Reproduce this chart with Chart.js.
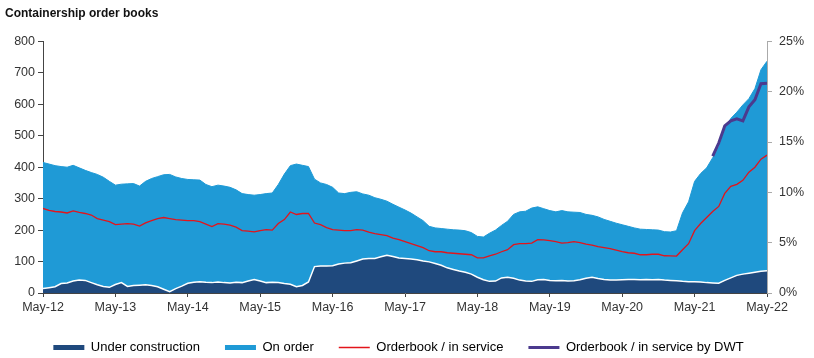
<!DOCTYPE html>
<html>
<head>
<meta charset="utf-8">
<script src="https://cdn.jsdelivr.net/npm/chart.js@4.4.1/dist/chart.umd.min.js"></script>
<style>
  body { margin: 0; background: #fff; }
  #wrap { width: 814px; height: 358px; position: relative; }
</style>
</head>
<body>
<div id="wrap"><canvas id="chart"></canvas></div>
<script>
// months since May-12 (0..120), one value per month
const xTickLabels = ['May-12', 'May-13', 'May-14', 'May-15', 'May-16', 'May-17', 'May-18', 'May-19', 'May-20', 'May-21', 'May-22'];

// top of the stacked area (under construction + on order)
const orderbookTotal = [
  415, 410, 405, 402, 400, 406, 398, 390, 383, 377, 368, 355,
  343, 346, 347, 348, 340, 355, 364, 370, 376, 377, 369, 364,
  361, 360, 359, 345, 338, 343, 340, 336, 328, 316, 313, 311,
  313, 316, 318, 345, 378, 405, 410, 406, 402, 362, 350, 345,
  336, 318, 316, 320, 322, 315, 311, 303, 298, 292, 282, 273,
  264, 254, 242, 230, 212, 207, 205, 203, 201, 200, 198, 192,
  180, 178, 190, 200, 215, 228, 250, 258, 260, 270, 274, 268,
  262, 258, 262, 258, 257, 256, 250, 247, 242, 234, 228, 222,
  217, 212, 207, 203, 202, 201, 200, 195, 194, 198, 255, 290,
  355, 380, 398, 430, 465, 520, 555, 575, 598, 618, 650, 710,
  737
];

const underConstruction = [
  14, 17, 20, 30, 32, 38, 41, 40, 33, 26, 21, 18,
  27, 33, 21, 24, 25, 26, 24, 20, 12, 4, 14, 22,
  31, 34, 36, 34, 33, 35, 33, 32, 34, 33, 38, 43,
  38, 33, 34, 33, 30, 28, 20, 24, 35, 84, 86, 86,
  87, 92, 95, 96, 102, 108, 110, 110, 115, 120, 116, 111,
  110, 108, 106, 102, 99, 94, 88, 80, 75, 70, 66, 60,
  50, 42, 37, 38, 48, 50, 47, 41, 38, 37, 42, 43,
  40, 39, 40, 38, 39, 42, 47, 50, 46, 43, 41, 41,
  42, 43, 43, 42, 43, 42, 43, 41, 40, 39, 37, 36,
  36, 35, 33, 32, 31, 40, 48, 56, 60, 63, 66, 69,
  71
];

// right axis, percent
const orderbookRatio = [
  8.4, 8.2, 8.1, 8.05, 7.95, 8.15, 8.0, 7.9, 7.75, 7.4, 7.25, 7.1,
  6.8, 6.85, 6.9, 6.85, 6.65, 6.97, 7.2, 7.4, 7.5, 7.4, 7.3, 7.25,
  7.2, 7.2, 7.1, 6.85, 6.6, 6.9, 6.85, 6.75, 6.55, 6.2, 6.15, 6.08,
  6.2, 6.3, 6.25, 6.9, 7.3, 8.05, 7.8, 7.9, 7.9, 6.95, 6.8, 6.5,
  6.3, 6.25, 6.2, 6.2, 6.3, 6.25, 6.05, 5.9, 5.8, 5.7, 5.45, 5.3,
  5.1, 4.9, 4.7, 4.5, 4.2, 4.1, 4.1, 4.0, 3.95, 3.9, 3.85, 3.8,
  3.5, 3.5, 3.7, 3.85, 4.1, 4.3, 4.8, 4.9, 4.9, 4.95, 5.3, 5.28,
  5.2, 5.1, 4.95, 5.0, 5.1, 5.0, 4.85, 4.75, 4.6, 4.5, 4.4, 4.25,
  4.1, 4.0, 3.95, 3.8, 3.8, 3.85, 3.85, 3.7, 3.68, 3.67, 4.3, 4.9,
  6.2, 6.9, 7.5, 8.1, 8.6, 9.9, 10.6, 10.8, 11.2, 12.0, 12.5, 13.3,
  13.7
];

// by DWT, only from mid 2021 (month 111 onwards)
const dwtStart = 111;
const orderbookRatioDwt = [13.6, 14.9, 16.6, 17.1, 17.3, 17.1, 18.5, 19.2, 20.8, 20.85];

const onOrder = orderbookTotal.map((v, i) => v - underConstruction[i]);

const toPoints = arr => arr.map((v, i) => ({ x: i, y: v }));
const dwtPoints = orderbookRatioDwt.map((v, i) => ({ x: dwtStart + i, y: v }));

const font = "'Liberation Sans', Arial, sans-serif";
const legendStyle = [
  { color: '#1f497d', width: 5 },
  { color: '#1f9ad6', width: 5 },
  { color: '#e3141b', width: 1.5 },
  { color: '#4b3a8e', width: 3 }
];

// legend in the original sits a little left of the page centre
const legendShift = {
  id: 'legendShift',
  afterLayout(chart) {
    chart.legend.left -= 10;
    chart.legend.right -= 10;
  }
};

new Chart(document.getElementById('chart'), {
  type: 'line',
  data: {
    datasets: [
      {
        label: 'Under construction',
        data: toPoints(underConstruction),
        yAxisID: 'y',
        stack: 'book',
        backgroundColor: '#1f497d',
        borderColor: '#ffffff',
        borderWidth: 1.5,
        fill: 'origin',
        pointRadius: 0,
        order: 1
      },
      {
        label: 'On order',
        data: toPoints(onOrder),
        yAxisID: 'y',
        stack: 'book',
        backgroundColor: '#1f9ad6',
        borderColor: '#1f9ad6',
        borderWidth: 1,
        fill: '-1',
        pointRadius: 0,
        order: 2
      },
      {
        label: 'Orderbook / in service',
        data: toPoints(orderbookRatio),
        yAxisID: 'y1',
        borderColor: '#e3141b',
        borderWidth: 1.3,
        fill: false,
        pointRadius: 0,
        order: -1
      },
      {
        label: 'Orderbook / in service by DWT',
        data: dwtPoints,
        yAxisID: 'y1',
        borderColor: '#4b3a8e',
        borderWidth: 3,
        fill: false,
        pointRadius: 0,
        order: -2
      }
    ]
  },
  plugins: [legendShift],
  options: {
    responsive: true,
    maintainAspectRatio: false,
    animation: false,
    layout: { padding: { left: 5, right: 2, top: 0, bottom: -6 } },
    plugins: {
      title: {
        display: true,
        text: 'Containership order books',
        align: 'start',
        color: '#111',
        font: { family: font, size: 12, weight: 'bold' },
        padding: { top: 6, bottom: 21 }
      },
      legend: {
        position: 'bottom',
        labels: {
          color: '#222',
          font: { family: font, size: 13 },
          usePointStyle: true,
          pointStyleWidth: 31,
          boxHeight: 6,
          padding: 25,
          generateLabels: chart => chart.data.datasets.map((ds, i) => ({
            text: ds.label,
            fillStyle: legendStyle[i].color,
            strokeStyle: legendStyle[i].color,
            lineWidth: legendStyle[i].width,
            pointStyle: 'line',
            hidden: false,
            datasetIndex: i
          }))
        }
      },
      tooltip: { enabled: false }
    },
    scales: {
      x: {
        type: 'linear',
        min: 0,
        max: 120,
        afterFit: scale => { scale.height = 23; },
        ticks: {
          stepSize: 12,
          color: '#333',
          font: { family: font, size: 12.5 },
          maxRotation: 0,
          padding: 3,
          callback: v => xTickLabels[v / 12]
        },
        grid: { drawOnChartArea: false, drawTicks: true, tickLength: 4, color: '#444' },
        border: { display: true, color: '#444', width: 1 }
      },
      y: {
        position: 'left',
        stacked: true,
        min: 0,
        max: 800,
        afterFit: scale => { scale.width = 38; },
        ticks: {
          stepSize: 100,
          color: '#333',
          font: { family: font, size: 12.5 },
          padding: 3
        },
        grid: { drawOnChartArea: false, drawTicks: true, tickLength: 5, color: '#444' },
        border: { display: true, color: '#444', width: 1 }
      },
      y1: {
        position: 'right',
        min: 0,
        max: 25,
        afterFit: scale => { scale.width = 45; },
        ticks: {
          stepSize: 5,
          color: '#333',
          font: { family: font, size: 12.5 },
          padding: 7,
          callback: v => v + '%'
        },
        grid: { drawOnChartArea: false, drawTicks: true, tickLength: 5, color: '#aaa' },
        border: { display: true, color: '#aaa', width: 1 }
      }
    }
  }
});
</script>
</body>
</html>
